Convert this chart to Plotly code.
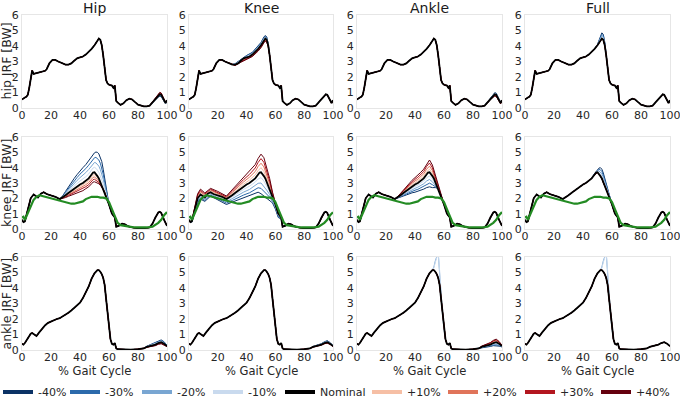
import plotly.graph_objects as go

# ---------------- data ----------------
LEVELS = ["-40%", "-30%", "-20%", "-10%", "+10%", "+20%", "+30%", "+40%"]
LEVEL_COLORS = ["#0b3265", "#2c6aab", "#79a6d2", "#c9daee",
                "#f6bfa5", "#e0745a", "#b3161f", "#65000e"]
NOMINAL_NAME = "Nominal"
LEGEND_ORDER = ["-40%", "-30%", "-20%", "-10%", "Nominal", "+10%", "+20%", "+30%", "+40%"]
COL_TITLES = ["Hip", "Knee", "Ankle", "Full"]
ROW_LABELS = ["hip JRF [BW]", "knee JRF [BW]", "ankle JRF [BW]"]
X_LABEL = "% Gait Cycle"
X_TICKS = [0, 20, 40, 60, 80, 100]
Y_TICKS = [0, 1, 2, 3, 4, 5, 6]

# nominal hip joint reaction force
HIP_X = [0, 1, 2, 3, 4, 5, 6, 7, 8, 10, 12, 14, 16, 17, 19, 21, 23, 25, 28, 30,
         32, 34, 36, 38, 40, 42, 44, 46, 48, 50, 52, 53, 54, 55, 56, 57, 58, 59, 60, 62,
         63, 64, 65, 66, 68, 70, 72, 74, 76, 78, 80, 84, 86, 88, 90, 92, 94, 95, 96, 98,
         99, 100]
HIP_NOM = [0.55, 0.65, 0.68, 0.72, 0.85, 1.3, 1.9, 2.42, 2.2, 2.25, 2.3, 2.33, 2.4, 2.5, 2.9, 3.1, 3.1, 3.0, 2.88, 2.8,
           2.8, 2.88, 3.05, 3.2, 3.27, 3.32, 3.45, 3.62, 3.82, 4.05, 4.38, 4.48, 4.4, 4.05, 3.4, 2.5, 1.8, 1.58, 1.5, 1.45,
           1.3, 1.45, 0.45, 0.35, 0.2, 0.3, 0.5, 0.6, 0.55, 0.38, 0.22, 0.1, 0.1, 0.15, 0.35, 0.6, 0.82, 0.88, 0.85, 0.55,
           0.32, 0.5]

# nominal knee joint reaction force
KNEE_X = [0, 1, 2, 4, 6, 8, 10, 11, 13, 15, 17, 20, 23, 26, 28, 30, 32, 34, 36, 38,
          40, 42, 44, 46, 48, 49, 50, 51, 52, 53, 54, 55, 56, 57, 58, 59, 60, 62, 63, 64,
          65, 67, 69, 71, 73, 76, 80, 84, 88, 90, 92, 94, 95, 96, 98, 100]
KNEE_NOM = [0.6, 0.45, 0.5, 1.2, 2.0, 2.25, 2.15, 2.05, 2.3, 2.4, 2.28, 2.2, 2.1, 1.95, 2.05, 2.2, 2.35, 2.5, 2.65, 2.78,
            2.9, 3.0, 3.15, 3.3, 3.55, 3.68, 3.7, 3.6, 3.45, 3.3, 3.05, 2.85, 2.6, 2.35, 2.1, 1.9, 1.6, 1.0, 0.85, 0.75,
            0.15, 0.22, 0.35, 0.3, 0.18, 0.1, 0.05, 0.05, 0.1, 0.35, 0.75, 1.08, 1.12, 1.05, 0.6, 0.2]

# measured knee contact force (green)
KNEE_EXP_X = [0, 1, 2, 4, 6, 8, 10, 12, 14, 16, 18, 20, 22, 24, 26, 28, 30, 32, 34, 36,
              38, 40, 42, 44, 46, 48, 50, 52, 54, 56, 58, 60, 62, 64, 66, 68, 70, 72, 74, 78,
              82, 86, 90, 92, 94, 96, 98, 100]
KNEE_EXP = [0.75, 0.8, 0.6, 1.0, 1.5, 1.9, 2.1, 2.2, 2.15, 2.1, 2.05, 2.05, 1.95, 1.9, 1.85, 1.8, 1.75, 1.7, 1.65, 1.65,
            1.7, 1.75, 1.8, 1.95, 2.05, 2.1, 2.1, 2.1, 2.05, 2.05, 2.0, 1.75, 1.3, 0.85, 0.4, 0.25, 0.2, 0.2, 0.15, 0.1,
            0.1, 0.1, 0.15, 0.25, 0.4, 0.6, 0.9, 1.1]

# nominal ankle joint reaction force
ANKLE_X = [0, 1, 2, 4, 6, 7, 8, 9, 10, 12, 14, 16, 18, 20, 22, 24, 26, 28, 30, 32,
           34, 36, 38, 40, 42, 44, 46, 48, 50, 52, 53, 54, 55, 56, 57, 58, 59, 60, 61, 62,
           63, 64, 65, 66, 70, 75, 80, 84, 86, 88, 90, 92, 94, 96, 98, 100]
ANKLE_NOM = [0.4, 0.35, 0.45, 0.75, 1.05, 1.1, 1.05, 0.95, 0.9, 1.15, 1.4, 1.6, 1.75, 1.85, 1.95, 2.0, 2.05, 2.15, 2.25, 2.4,
             2.55, 2.7, 2.85, 3.05, 3.35, 3.7, 4.1, 4.6, 4.95, 5.15, 5.15, 5.05, 4.9, 4.65, 4.2, 3.3, 2.3, 1.35, 0.7, 0.4,
             0.35, 0.45, 0.1, 0.05, 0.02, 0.02, 0.05, 0.1, 0.2, 0.25, 0.3, 0.35, 0.45, 0.5, 0.4, 0.25]

# ----- perturbed curves (only where they differ from nominal), one list per level -----
R1_TAIL_X = [88, 90, 92, 94, 95, 96, 98, 99]
R1_HIP_TAIL = [
    [0.15, 0.31, 0.52, 0.70, 0.75, 0.73, 0.47, 0.28],
    [0.15, 0.32, 0.54, 0.73, 0.78, 0.76, 0.49, 0.29],
    [0.15, 0.33, 0.56, 0.76, 0.82, 0.79, 0.51, 0.30],
    [0.15, 0.34, 0.58, 0.79, 0.85, 0.82, 0.53, 0.31],
    [0.15, 0.36, 0.62, 0.85, 0.91, 0.88, 0.57, 0.33],
    [0.15, 0.37, 0.64, 0.88, 0.94, 0.91, 0.59, 0.34],
    [0.15, 0.38, 0.66, 0.91, 0.98, 0.94, 0.61, 0.35],
    [0.15, 0.39, 0.68, 0.94, 1.01, 0.97, 0.63, 0.36],
]
R1_ANKLE_TAIL = [
    [0.15, 0.39, 0.67, 0.93, 0.99, 0.95, 0.62, 0.36],
    [0.15, 0.38, 0.65, 0.90, 0.96, 0.93, 0.60, 0.35],
    [0.15, 0.37, 0.63, 0.88, 0.94, 0.90, 0.58, 0.34],
    [0.15, 0.36, 0.62, 0.85, 0.91, 0.88, 0.57, 0.33],
    [0.15, 0.34, 0.58, 0.79, 0.85, 0.82, 0.53, 0.31],
    [0.15, 0.33, 0.57, 0.77, 0.82, 0.80, 0.52, 0.30],
    [0.15, 0.32, 0.55, 0.74, 0.79, 0.77, 0.50, 0.29],
    [0.15, 0.31, 0.54, 0.72, 0.77, 0.75, 0.49, 0.28],
]
R1_KNEE_X = [28, 32, 36, 40, 44, 48, 50, 52, 53, 54, 55]
R1_KNEE_PEAK = [
    [2.88, 2.86, 3.15, 3.39, 3.59, 3.98, 4.23, 4.58, 4.68, 4.58, 4.15],
    [2.88, 2.85, 3.13, 3.36, 3.56, 3.94, 4.19, 4.53, 4.63, 4.54, 4.13],
    [2.88, 2.83, 3.10, 3.33, 3.52, 3.90, 4.14, 4.48, 4.58, 4.49, 4.10],
    [2.88, 2.82, 3.08, 3.30, 3.49, 3.86, 4.10, 4.43, 4.53, 4.45, 4.08],
    [2.88, 2.78, 3.03, 3.24, 3.42, 3.78, 4.01, 4.34, 4.44, 4.36, 4.03],
    [2.88, 2.77, 3.00, 3.21, 3.38, 3.75, 3.97, 4.29, 4.39, 4.32, 4.01],
    [2.88, 2.75, 2.98, 3.18, 3.35, 3.71, 3.93, 4.25, 4.35, 4.28, 3.99],
    [2.88, 2.74, 2.95, 3.15, 3.32, 3.67, 3.89, 4.20, 4.30, 4.24, 3.97],
]
R1_FULL_X = [50, 52, 53, 54, 55, 56]
R1_FULL_PEAK = [
    [4.10, 4.60, 4.85, 4.75, 4.25, 3.45],
    [4.09, 4.54, 4.76, 4.66, 4.20, 3.44],
    [4.08, 4.49, 4.67, 4.58, 4.15, 3.43],
    [4.06, 4.43, 4.57, 4.49, 4.10, 3.41],
    [4.05, 4.37, 4.47, 4.39, 4.05, 3.40],
    [4.05, 4.37, 4.47, 4.39, 4.04, 3.40],
    [4.05, 4.36, 4.46, 4.38, 4.04, 3.40],
    [4.05, 4.36, 4.46, 4.38, 4.03, 3.40],
]
R2_HIP_X = [26, 28, 30, 32, 34, 36, 38, 40, 42, 44, 46, 48, 49, 50, 51, 52, 53, 54, 55, 56, 57, 58, 59, 60]
R2_HIP_PEAK = [
    [1.95, 2.15, 2.45, 2.75, 3.05, 3.30, 3.55, 3.80, 4.00, 4.20, 4.45, 4.75, 4.88, 4.97, 5.02, 5.00, 4.90, 4.70, 4.40, 3.90, 3.30, 2.60, 2.00, 1.60],
    [1.95, 2.13, 2.39, 2.65, 2.91, 3.14, 3.36, 3.58, 3.75, 3.94, 4.16, 4.45, 4.58, 4.65, 4.67, 4.61, 4.50, 4.29, 4.01, 3.58, 3.06, 2.48, 1.98, 1.60],
    [1.95, 2.10, 2.33, 2.55, 2.78, 2.98, 3.17, 3.35, 3.50, 3.68, 3.88, 4.15, 4.28, 4.34, 4.31, 4.23, 4.10, 3.88, 3.63, 3.25, 2.83, 2.35, 1.95, 1.60],
    [1.95, 2.08, 2.26, 2.45, 2.64, 2.81, 2.97, 3.13, 3.25, 3.41, 3.59, 3.85, 3.98, 4.02, 3.96, 3.84, 3.70, 3.46, 3.24, 2.93, 2.59, 2.23, 1.93, 1.60],
    [1.95, 2.03, 2.16, 2.30, 2.43, 2.56, 2.68, 2.78, 2.88, 3.02, 3.16, 3.40, 3.52, 3.55, 3.46, 3.34, 3.21, 3.00, 2.83, 2.60, 2.36, 2.11, 1.90, 1.60],
    [1.95, 2.02, 2.13, 2.24, 2.35, 2.47, 2.57, 2.67, 2.75, 2.89, 3.03, 3.25, 3.37, 3.39, 3.33, 3.23, 3.13, 2.95, 2.80, 2.60, 2.38, 2.13, 1.91, 1.60],
    [1.95, 2.00, 2.09, 2.19, 2.28, 2.37, 2.47, 2.55, 2.63, 2.76, 2.89, 3.10, 3.22, 3.24, 3.19, 3.11, 3.04, 2.90, 2.78, 2.60, 2.39, 2.14, 1.92, 1.60],
    [1.95, 1.98, 2.05, 2.13, 2.20, 2.28, 2.36, 2.43, 2.50, 2.63, 2.75, 2.95, 3.06, 3.08, 3.05, 3.00, 2.95, 2.85, 2.75, 2.60, 2.40, 2.15, 1.92, 1.60],
]
R2_KNEE_X = [2, 4, 6, 8, 11, 15, 20, 26, 30, 34, 38, 42, 46, 48, 50, 52, 54, 56, 58, 60, 62, 64]
R2_KNEE_PEAK = [
    [0.45, 1.00, 1.70, 1.95, 1.80, 2.15, 1.90, 1.60, 1.75, 1.90, 2.03, 2.15, 2.35, 2.40, 2.30, 2.15, 2.00, 1.90, 1.70, 1.30, 0.75, 0.65],
    [0.46, 1.05, 1.78, 2.03, 1.86, 2.21, 1.98, 1.69, 1.86, 2.05, 2.22, 2.36, 2.59, 2.69, 2.65, 2.48, 2.26, 2.08, 1.80, 1.38, 0.81, 0.68],
    [0.48, 1.10, 1.85, 2.10, 1.93, 2.28, 2.05, 1.78, 1.98, 2.20, 2.41, 2.58, 2.83, 2.98, 3.00, 2.80, 2.53, 2.25, 1.90, 1.45, 0.88, 0.70],
    [0.49, 1.15, 1.93, 2.18, 1.99, 2.34, 2.13, 1.86, 2.09, 2.35, 2.59, 2.79, 3.06, 3.26, 3.35, 3.13, 2.79, 2.43, 2.00, 1.53, 0.94, 0.73],
    [0.51, 1.24, 2.08, 2.34, 2.13, 2.46, 2.26, 2.00, 2.29, 2.63, 2.93, 3.19, 3.53, 3.81, 4.00, 3.75, 3.30, 2.78, 2.18, 1.63, 1.00, 0.75],
    [0.53, 1.28, 2.15, 2.43, 2.20, 2.53, 2.33, 2.05, 2.38, 2.75, 3.08, 3.38, 3.75, 4.08, 4.29, 4.05, 3.55, 2.95, 2.25, 1.65, 1.00, 0.75],
    [0.54, 1.31, 2.23, 2.51, 2.28, 2.59, 2.39, 2.10, 2.46, 2.88, 3.23, 3.56, 3.98, 4.34, 4.59, 4.35, 3.80, 3.13, 2.33, 1.68, 1.00, 0.75],
    [0.55, 1.35, 2.30, 2.60, 2.35, 2.65, 2.45, 2.15, 2.55, 3.00, 3.38, 3.75, 4.20, 4.60, 4.88, 4.65, 4.05, 3.30, 2.40, 1.70, 1.00, 0.75],
]
R2_ANKLE_X = [26, 28, 30, 32, 34, 36, 38, 40, 42, 44, 46, 48, 50, 52, 54, 56, 58, 60]
R2_ANKLE_PEAK = [
    [1.95, 2.00, 2.08, 2.15, 2.22, 2.30, 2.36, 2.40, 2.45, 2.55, 2.60, 2.70, 2.75, 2.70, 2.70, 2.65, 2.20, 1.60],
    [1.95, 2.01, 2.11, 2.20, 2.29, 2.39, 2.47, 2.53, 2.59, 2.70, 2.78, 2.91, 2.99, 2.89, 2.79, 2.64, 2.18, 1.60],
    [1.95, 2.03, 2.14, 2.25, 2.36, 2.48, 2.57, 2.65, 2.73, 2.85, 2.95, 3.13, 3.23, 3.08, 2.88, 2.63, 2.15, 1.60],
    [1.95, 2.04, 2.17, 2.30, 2.43, 2.56, 2.68, 2.78, 2.86, 3.00, 3.13, 3.34, 3.46, 3.26, 2.96, 2.61, 2.13, 1.60],
    [1.95, 2.06, 2.23, 2.40, 2.57, 2.73, 2.88, 3.01, 3.13, 3.29, 3.45, 3.73, 3.90, 3.63, 3.18, 2.66, 2.12, 1.60],
    [1.95, 2.08, 2.26, 2.45, 2.64, 2.82, 2.98, 3.13, 3.25, 3.43, 3.60, 3.90, 4.10, 3.81, 3.30, 2.73, 2.14, 1.60],
    [1.95, 2.09, 2.29, 2.50, 2.70, 2.90, 3.08, 3.24, 3.38, 3.56, 3.75, 4.08, 4.30, 3.99, 3.43, 2.79, 2.16, 1.60],
    [1.95, 2.10, 2.32, 2.55, 2.77, 2.98, 3.18, 3.35, 3.50, 3.70, 3.90, 4.25, 4.50, 4.17, 3.55, 2.85, 2.18, 1.60],
]
R2_FULL_X = [46, 48, 50, 51, 52, 53, 54, 55, 56, 57, 58]
R2_FULL_PEAK = [
    [3.32, 3.62, 3.88, 3.97, 4.00, 3.90, 3.65, 3.30, 2.90, 2.50, 2.12],
    [3.31, 3.60, 3.83, 3.88, 3.86, 3.75, 3.50, 3.19, 2.82, 2.46, 2.11],
    [3.31, 3.58, 3.79, 3.79, 3.72, 3.60, 3.35, 3.07, 2.75, 2.43, 2.11],
    [3.30, 3.57, 3.75, 3.70, 3.59, 3.45, 3.20, 2.96, 2.68, 2.39, 2.10],
    [3.30, 3.55, 3.69, 3.59, 3.44, 3.29, 3.04, 2.85, 2.60, 2.35, 2.10],
    [3.30, 3.54, 3.69, 3.59, 3.44, 3.29, 3.04, 2.84, 2.60, 2.35, 2.10],
    [3.30, 3.54, 3.68, 3.58, 3.43, 3.28, 3.03, 2.84, 2.60, 2.35, 2.10],
    [3.29, 3.54, 3.68, 3.58, 3.43, 3.28, 3.03, 2.84, 2.59, 2.35, 2.10],
]
R3_TAIL_X = [84, 86, 88, 90, 92, 94, 96, 98, 100]
R3_HIP_TAIL = [
    [0.10, 0.24, 0.31, 0.38, 0.45, 0.57, 0.65, 0.53, 0.30],
    [0.10, 0.23, 0.30, 0.36, 0.43, 0.54, 0.61, 0.50, 0.29],
    [0.10, 0.22, 0.28, 0.34, 0.40, 0.51, 0.58, 0.47, 0.28],
    [0.10, 0.21, 0.27, 0.32, 0.38, 0.48, 0.54, 0.43, 0.26],
    [0.10, 0.19, 0.24, 0.29, 0.33, 0.43, 0.48, 0.38, 0.24],
    [0.10, 0.19, 0.23, 0.27, 0.31, 0.41, 0.45, 0.36, 0.23],
    [0.10, 0.18, 0.22, 0.26, 0.30, 0.39, 0.43, 0.33, 0.23],
    [0.10, 0.17, 0.21, 0.24, 0.28, 0.37, 0.40, 0.31, 0.22],
]
R3_KNEE_TAIL = [
    [0.10, 0.22, 0.28, 0.35, 0.41, 0.53, 0.60, 0.48, 0.28],
    [0.10, 0.22, 0.27, 0.34, 0.40, 0.51, 0.58, 0.46, 0.27],
    [0.10, 0.21, 0.26, 0.32, 0.38, 0.49, 0.55, 0.44, 0.27],
    [0.10, 0.21, 0.26, 0.31, 0.37, 0.47, 0.53, 0.42, 0.26],
    [0.10, 0.20, 0.25, 0.29, 0.34, 0.44, 0.48, 0.39, 0.25],
    [0.10, 0.19, 0.24, 0.28, 0.33, 0.43, 0.47, 0.38, 0.24],
    [0.10, 0.19, 0.24, 0.28, 0.32, 0.42, 0.45, 0.37, 0.24],
    [0.10, 0.18, 0.23, 0.27, 0.31, 0.41, 0.44, 0.36, 0.23],
]
R3_ANKLE_TAIL = [
    [0.10, 0.15, 0.18, 0.20, 0.23, 0.28, 0.28, 0.25, 0.20],
    [0.10, 0.16, 0.20, 0.23, 0.26, 0.32, 0.34, 0.29, 0.21],
    [0.10, 0.18, 0.22, 0.25, 0.29, 0.37, 0.39, 0.33, 0.23],
    [0.10, 0.19, 0.23, 0.28, 0.32, 0.41, 0.45, 0.36, 0.24],
    [0.10, 0.21, 0.27, 0.33, 0.38, 0.49, 0.55, 0.44, 0.26],
    [0.10, 0.23, 0.29, 0.35, 0.42, 0.54, 0.60, 0.48, 0.28],
    [0.10, 0.24, 0.31, 0.38, 0.45, 0.58, 0.65, 0.51, 0.29],
    [0.10, 0.25, 0.33, 0.40, 0.48, 0.62, 0.70, 0.55, 0.30],
]
# ankle-force overshoot of the -20% and -10% cases (Ankle and Full columns)
SPIKE_X = [52, 53, 54, 55, 56, 57, 58]
SPIKE_M20 = [5.15, 5.35, 5.75, 6.15, 6.30, 4.90, 3.30]
SPIKE_M10 = [5.15, 5.30, 5.65, 6.05, 6.25, 5.10, 3.35]

# ---------------- helpers ----------------
def per_level(wx, table):
    return [[(wx, row)] for row in table]


def merged(nx, ny, windows):
    pts = list(zip(nx, ny))
    for wx, wy in windows:
        lo, hi = min(wx), max(wx)
        pts = [p for p in pts if p[0] < lo or p[0] > hi] + list(zip(wx, wy))
    pts.sort(key=lambda p: p[0])
    return [p[0] for p in pts], [p[1] for p in pts]


spike = [[] for _ in LEVELS]
spike[2] = [(SPIKE_X, SPIKE_M20)]
spike[3] = [(SPIKE_X, SPIKE_M10)]
r3_ankle = [a + b for a, b in zip(per_level(R3_TAIL_X, R3_ANKLE_TAIL), spike)]

ROWS = [
    (HIP_X, HIP_NOM, [per_level(R1_TAIL_X, R1_HIP_TAIL), per_level(R1_KNEE_X, R1_KNEE_PEAK),
                      per_level(R1_TAIL_X, R1_ANKLE_TAIL), per_level(R1_FULL_X, R1_FULL_PEAK)]),
    (KNEE_X, KNEE_NOM, [per_level(R2_HIP_X, R2_HIP_PEAK), per_level(R2_KNEE_X, R2_KNEE_PEAK),
                        per_level(R2_ANKLE_X, R2_ANKLE_PEAK), per_level(R2_FULL_X, R2_FULL_PEAK)]),
    (ANKLE_X, ANKLE_NOM, [per_level(R3_TAIL_X, R3_HIP_TAIL), per_level(R3_TAIL_X, R3_KNEE_TAIL),
                          r3_ankle, spike]),
]

# ---------------- layout geometry ----------------
W, H = 680, 404
ML, MR, MT, MB = 22, 10, 15, 54
PW, PH = W - ML - MR, H - MT - MB
COL_PX = [(22, 167), (189, 333), (357, 502), (525, 670)]
ROW_PX = [(15, 108), (137, 229), (257, 350)]
LEGEND_TEXT_PX = [38, 105, 177, 248, 320, 407, 483, 560, 636]


def fx(px):
    return (px - ML) / PW


def fy(py):
    return (H - MB - py) / PH


FONT = "DejaVu Sans"
TXT = "#262626"

fig = go.Figure()
layout = dict(
    width=W, height=H,
    margin=dict(l=ML, r=MR, t=MT, b=MB, autoexpand=False),
    paper_bgcolor="white", plot_bgcolor="white",
    font=dict(family=FONT, size=11, color=TXT),
    showlegend=True,
    annotations=[],
)
for j, name in enumerate(LEGEND_ORDER):
    key = "legend" if j == 0 else f"legend{j + 1}"
    layout[key] = dict(orientation="h", x=fx(LEGEND_TEXT_PX[j] - 40), xanchor="left",
                       y=fy(392), yanchor="middle", itemwidth=30,
                       font=dict(family=FONT, size=11, color=TXT),
                       bgcolor="rgba(0,0,0,0)", borderwidth=0)

for r in range(3):
    nx, ny, panels = ROWS[r]
    for c in range(4):
        k = r * 4 + c + 1
        sfx = "" if k == 1 else str(k)
        layout["xaxis" + sfx] = dict(
            domain=[fx(COL_PX[c][0]), fx(COL_PX[c][1])], anchor="y" + sfx,
            range=[0, 100], tickvals=X_TICKS, ticks="", showgrid=False, zeroline=False,
            showline=True, mirror=True, linecolor="#e6e6e6", linewidth=1,
            ticklabeloverflow="allow", ticklabelstandoff=-3,
            tickfont=dict(family=FONT, size=11, color=TXT), fixedrange=True)
        layout["yaxis" + sfx] = dict(
            domain=[fy(ROW_PX[r][1]), fy(ROW_PX[r][0])], anchor="x" + sfx,
            range=[0, 6], tickvals=Y_TICKS, ticks="", showgrid=False, zeroline=False,
            showline=True, mirror=True, linecolor="#e6e6e6", linewidth=1,
            ticklabeloverflow="allow",
            tickfont=dict(family=FONT, size=11, color=TXT), fixedrange=True)
        for i, lvl in enumerate(LEVELS):
            xs, ys = merged(nx, ny, panels[c][i])
            fig.add_trace(go.Scatter(x=xs, y=ys, mode="lines", xaxis="x" + sfx, yaxis="y" + sfx,
                                     line=dict(color=LEVEL_COLORS[i], width=1.0),
                                     showlegend=False, hoverinfo="skip", name=lvl))
        fig.add_trace(go.Scatter(x=nx, y=ny, mode="lines", xaxis="x" + sfx, yaxis="y" + sfx,
                                 line=dict(color="black", width=1.8),
                                 showlegend=False, hoverinfo="skip", name=NOMINAL_NAME))
        if r == 1:
            fig.add_trace(go.Scatter(x=KNEE_EXP_X, y=KNEE_EXP, mode="lines", xaxis="x" + sfx, yaxis="y" + sfx,
                                     line=dict(color="#238b23", width=2.2),
                                     showlegend=False, hoverinfo="skip", name="measured"))

# legend entries (one small legend per entry so each sits where the reference has it)
for j, name in enumerate(LEGEND_ORDER):
    col = "black" if name == NOMINAL_NAME else LEVEL_COLORS[LEVELS.index(name)]
    fig.add_trace(go.Scatter(x=[None], y=[None], mode="lines", name=name,
                             legend="legend" if j == 0 else f"legend{j + 1}",
                             line=dict(color=col, width=4), showlegend=True))

# titles and axis labels
for c, t in enumerate(COL_TITLES):
    cx = fx((COL_PX[c][0] + COL_PX[c][1]) / 2)
    layout["annotations"].append(dict(text=t, x=cx, y=fy(8), xref="paper", yref="paper",
                                      showarrow=False, xanchor="center", yanchor="middle",
                                      font=dict(family=FONT, size=14, color="#1a1a1a")))
    layout["annotations"].append(dict(text=X_LABEL, x=cx, y=fy(371), xref="paper", yref="paper",
                                      showarrow=False, xanchor="center", yanchor="middle",
                                      font=dict(family=FONT, size=11.5, color=TXT)))
for r, t in enumerate(ROW_LABELS):
    cy = fy((ROW_PX[r][0] + ROW_PX[r][1]) / 2)
    layout["annotations"].append(dict(text=t, x=fx(6), y=cy, xref="paper", yref="paper",
                                      showarrow=False, xanchor="center", yanchor="middle",
                                      textangle=-90, font=dict(family=FONT, size=12.5, color=TXT)))

fig.update_layout(**layout)
fig.write_html("out.html", config={"displayModeBar": False},
               post_script="document.body.style.margin='0';document.body.style.padding='0';")
